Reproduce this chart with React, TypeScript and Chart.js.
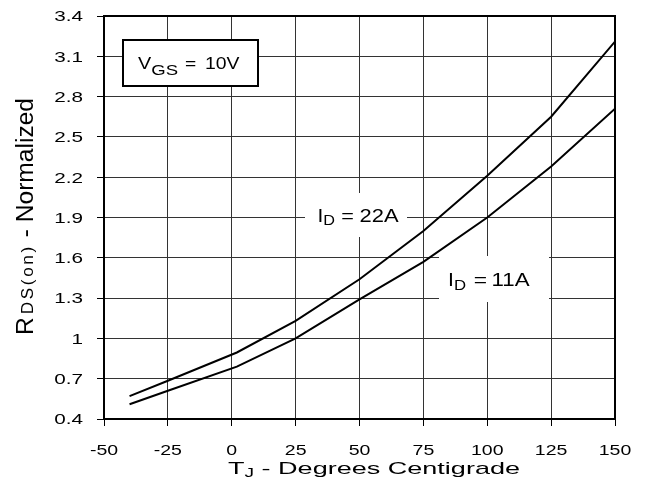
import React, { useEffect, useRef } from 'react';
import { Chart, registerables } from 'chart.js';

Chart.register(...registerables);

// ---- data ----
const temps = [-40, -25, 2, 25, 50, 75, 100, 125, 150];
const rdsId22 = [0.57, 0.685, 0.895, 1.13, 1.44, 1.8, 2.21, 2.65, 3.21];
const rdsId11 = [0.51, 0.61, 0.79, 1.0, 1.29, 1.57, 1.9, 2.28, 2.71];

const xTicks = [-50, -25, 0, 25, 50, 75, 100, 125, 150];
const xTickLabels = ['-50', '-25', '0', '25', '50', '75', '100', '125', '150'];
const yTicks = [0.4, 0.7, 1, 1.3, 1.6, 1.9, 2.2, 2.5, 2.8, 3.1, 3.4];
const yTickLabels = ['0.4', '0.7', '1', '1.3', '1.6', '1.9', '2.2', '2.5', '2.8', '3.1', '3.4'];

const series22Label = ['I', 'D', '=', '22A'];
const series11Label = ['I', 'D', '=', '11A'];
const conditionLabel = ['V', 'GS', '=', '10V'];
const xTitle = ['T', 'J', ' - Degrees Centigrade'];
const yTitle = ['R', 'DS(on)', ' - Normalized'];

const FAMILY = '"Liberation Sans", Arial, sans-serif';

type Part = { t: string; size: number; dy?: number; ls?: number };

function partWidth(ctx: CanvasRenderingContext2D, p: Part) {
  ctx.font = `${p.size}px ${FAMILY}`;
  if (p.ls) {
    let w = 0;
    for (const ch of p.t) w += ctx.measureText(ch).width + p.ls;
    return w;
  }
  return ctx.measureText(p.t).width;
}

function drawRich(
  ctx: CanvasRenderingContext2D,
  parts: Part[],
  x: number,
  y: number,
  opts: { width?: number; sx?: number; sy?: number; rot?: number; align?: 'left' | 'right' | 'center' } = {}
) {
  ctx.save();
  ctx.translate(x, y);
  if (opts.rot) ctx.rotate(opts.rot);
  let nat = 0;
  for (const p of parts) nat += partWidth(ctx, p);
  const sx = opts.width ? opts.width / nat : opts.sx ?? 1;
  ctx.scale(sx, opts.sy ?? 1);
  let cx = opts.align === 'right' ? -nat : opts.align === 'center' ? -nat / 2 : 0;
  ctx.textAlign = 'left';
  ctx.textBaseline = 'alphabetic';
  ctx.fillStyle = '#000';
  for (const p of parts) {
    ctx.font = `${p.size}px ${FAMILY}`;
    if (p.ls) {
      for (const ch of p.t) {
        ctx.fillText(ch, cx, p.dy ?? 0);
        cx += ctx.measureText(ch).width + p.ls;
      }
    } else {
      ctx.fillText(p.t, cx, p.dy ?? 0);
      cx += ctx.measureText(p.t).width;
    }
  }
  ctx.restore();
}

// label: letter + subscript (fitted span), "=" centred at a point, value (fitted span)
function drawSubLabel(
  ctx: CanvasRenderingContext2D,
  texts: string[],
  size: number,
  subSize: number,
  subDy: number,
  baseline: number,
  first: [number, number],
  eqCenter: number,
  last: [number, number]
) {
  drawRich(
    ctx,
    [
      { t: texts[0], size },
      { t: texts[1], size: subSize, dy: subDy },
    ],
    first[0],
    baseline,
    { width: first[1] - first[0] }
  );
  drawRich(ctx, [{ t: texts[2], size }], eqCenter, baseline, { sx: 1.2, align: 'center' });
  drawRich(ctx, [{ t: texts[3], size }], last[0], baseline, { width: last[1] - last[0] });
}

const annotationPlugin = {
  id: 'annotations',
  beforeDatasetsDraw(chart: any) {
    const ctx: CanvasRenderingContext2D = chart.ctx;
    ctx.save();
    ctx.fillStyle = '#fff';
    ctx.fillRect(305, 193, 102, 44);
    ctx.fillRect(439, 256, 110, 46);
    ctx.fillRect(123, 40, 135, 46);
    ctx.strokeStyle = '#000';
    ctx.lineWidth = 2;
    ctx.strokeRect(123, 40, 135, 46);
    ctx.restore();

    drawSubLabel(ctx, conditionLabel, 16, 15, 6, 69, [138, 178], 190.5, [205, 239.5]);
    drawSubLabel(ctx, series22Label, 18, 14, 3, 222, [317.5, 335], 347.5, [359.5, 398.5]);
    drawSubLabel(ctx, series11Label, 19, 15, 4, 286, [448, 466], 480.5, [491.5, 529.5]);
  },
  afterDraw(chart: any) {
    const ctx: CanvasRenderingContext2D = chart.ctx;
    const a = chart.chartArea;
    ctx.save();
    ctx.strokeStyle = '#000';
    ctx.lineWidth = 2;
    ctx.strokeRect(a.left, a.top, a.right - a.left, a.bottom - a.top);
    ctx.restore();

    const xs = chart.scales.x;
    const ys = chart.scales.y;
    xTicks.forEach((v, i) => {
      drawRich(ctx, [{ t: xTickLabels[i], size: 15 }], xs.getPixelForValue(v), 455, {
        sx: 1.3,
        align: 'center',
      });
    });
    yTicks.forEach((v, i) => {
      drawRich(ctx, [{ t: yTickLabels[i], size: 15 }], 83, ys.getPixelForValue(v) + 5.3, {
        sx: 1.38,
        align: 'right',
      });
    });

    drawRich(
      ctx,
      [
        { t: xTitle[0], size: 17 },
        { t: xTitle[1], size: 12, dy: 3 },
        { t: xTitle[2], size: 17 },
      ],
      228,
      474,
      { width: 292 }
    );
    drawRich(
      ctx,
      [
        { t: yTitle[0], size: 23 },
        { t: ' ', size: 10 },
        { t: yTitle[1], size: 16, dy: 0.5, ls: 2.5 },
        { t: yTitle[2], size: 23 },
      ],
      32.5,
      335,
      { width: 237, rot: -Math.PI / 2 }
    );
  },
};

export default function App() {
  const ref = useRef<HTMLCanvasElement | null>(null);

  useEffect(() => {
    if (!ref.current) return;
    const chart = new Chart(ref.current, {
      type: 'line',
      data: {
        datasets: [
          {
            label: 'ID = 22A',
            data: temps.map((t, i) => ({ x: t, y: rdsId22[i] })),
            borderColor: '#000',
            borderWidth: 2,
            pointRadius: 0,
            tension: 0,
            fill: false,
          },
          {
            label: 'ID = 11A',
            data: temps.map((t, i) => ({ x: t, y: rdsId11[i] })),
            borderColor: '#000',
            borderWidth: 2,
            pointRadius: 0,
            tension: 0,
            fill: false,
          },
        ],
      },
      options: {
        animation: false,
        responsive: false,
        devicePixelRatio: 1,
        layout: { padding: { top: 16, right: 36, left: 0, bottom: 0 } },
        plugins: { legend: { display: false }, tooltip: { enabled: false } },
        scales: {
          x: {
            type: 'linear',
            min: -50,
            max: 150,
            afterBuildTicks: (s: any) => {
              s.ticks = xTicks.map((v) => ({ value: v }));
            },
            afterFit: (s: any) => {
              s.height = 69;
            },
            ticks: { display: false },
            grid: { color: '#333', lineWidth: 1, tickLength: 7, tickColor: '#000', drawTicks: true },
            border: { display: false },
          },
          y: {
            type: 'linear',
            min: 0.4,
            max: 3.4,
            afterBuildTicks: (s: any) => {
              s.ticks = yTicks.map((v) => ({ value: v }));
            },
            afterFit: (s: any) => {
              s.width = 104;
            },
            ticks: { display: false },
            grid: { color: '#333', lineWidth: 1, tickLength: 7, tickColor: '#000', drawTicks: true },
            border: { display: false },
          },
        },
      },
      plugins: [annotationPlugin],
    });
    return () => chart.destroy();
  }, []);

  return (
    <div style={{ position: 'fixed', left: 0, top: 0, width: 651, height: 488, background: '#fff' }}>
      <canvas ref={ref} width={651} height={488} style={{ display: 'block' }} />
    </div>
  );
}
